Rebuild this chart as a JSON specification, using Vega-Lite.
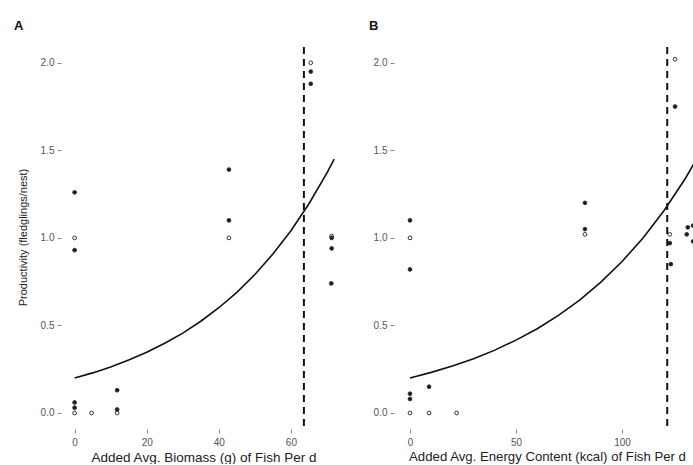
{
  "$schema": "https://vega.github.io/schema/vega-lite/v6.json",
  "background": "white",
  "padding": {"left": 14, "top": 20, "right": 0, "bottom": 0},
  "config": {
    "view": {"stroke": null},
    "font": "Liberation Sans",
    "axis": {"domain": false, "grid": false, "tickSize": 4, "tickColor": "#888", "labelColor": "#555", "labelFontSize": 10, "labelPadding": 3, "titleFont": "Liberation Sans", "titleFontWeight": "normal", "titleColor": "#222"},
    "axisX": {"offset": 2, "labelPadding": 4, "titleFontSize": 13.5, "titlePadding": 3},
    "axisY": {"offset": 1, "titleFontSize": 11},
    "title": {"font": "Liberation Sans", "fontSize": 13, "fontWeight": "bold", "color": "#111", "anchor": "start", "frame": "group"}
  },
  "datasets": {
    "pointsA": [
      {"x": 0, "y": 1.26, "t": "f"}, {"x": 0, "y": 1.0, "t": "o"}, {"x": 0, "y": 0.93, "t": "f"},
      {"x": 0, "y": 0.06, "t": "f"}, {"x": 0, "y": 0.03, "t": "f"}, {"x": 0, "y": 0.0, "t": "o"},
      {"x": 4.7, "y": 0.0, "t": "o"},
      {"x": 11.8, "y": 0.13, "t": "f"}, {"x": 11.8, "y": 0.02, "t": "f"}, {"x": 11.8, "y": 0.0, "t": "o"},
      {"x": 42.8, "y": 1.39, "t": "f"}, {"x": 42.8, "y": 1.1, "t": "f"}, {"x": 42.8, "y": 1.0, "t": "o"},
      {"x": 65.5, "y": 2.0, "t": "o"}, {"x": 65.5, "y": 1.95, "t": "f"}, {"x": 65.5, "y": 1.88, "t": "f"},
      {"x": 71.3, "y": 1.01, "t": "o"}, {"x": 71.3, "y": 1.0, "t": "f"}, {"x": 71.3, "y": 0.94, "t": "f"}, {"x": 71.2, "y": 0.74, "t": "f"}
    ],
    "pointsB": [
      {"x": 0, "y": 1.1, "t": "f"}, {"x": 0, "y": 1.0, "t": "o"}, {"x": 0, "y": 0.82, "t": "f"},
      {"x": 0, "y": 0.11, "t": "f"}, {"x": 0, "y": 0.08, "t": "f"}, {"x": 0, "y": 0.0, "t": "o"},
      {"x": 9, "y": 0.15, "t": "f"}, {"x": 9, "y": 0.0, "t": "o"},
      {"x": 22, "y": 0.0, "t": "o"},
      {"x": 82.5, "y": 1.2, "t": "f"}, {"x": 82.5, "y": 1.05, "t": "f"}, {"x": 82.5, "y": 1.02, "t": "o"},
      {"x": 122.5, "y": 1.02, "t": "o"}, {"x": 122.5, "y": 0.97, "t": "f"}, {"x": 123, "y": 0.85, "t": "f"},
      {"x": 125, "y": 2.02, "t": "o"}, {"x": 125, "y": 1.75, "t": "f"},
      {"x": 131, "y": 1.06, "t": "f"}, {"x": 130.5, "y": 1.02, "t": "f"}, {"x": 133.5, "y": 1.07, "t": "f"}, {"x": 133.5, "y": 0.98, "t": "f"}
    ],
    "curveA": [
      {"x": 0, "y": 0.2}, {"x": 5, "y": 0.229}, {"x": 10, "y": 0.263}, {"x": 15, "y": 0.302},
      {"x": 20, "y": 0.347}, {"x": 25, "y": 0.398}, {"x": 30, "y": 0.456}, {"x": 35, "y": 0.524},
      {"x": 40, "y": 0.601}, {"x": 45, "y": 0.689}, {"x": 50, "y": 0.791}, {"x": 55, "y": 0.908},
      {"x": 60, "y": 1.041}, {"x": 65, "y": 1.195}, {"x": 70, "y": 1.371}, {"x": 72, "y": 1.45}
    ],
    "curveB": [
      {"x": 0, "y": 0.2}, {"x": 10, "y": 0.232}, {"x": 20, "y": 0.268}, {"x": 30, "y": 0.31},
      {"x": 40, "y": 0.359}, {"x": 50, "y": 0.416}, {"x": 60, "y": 0.481}, {"x": 70, "y": 0.557},
      {"x": 80, "y": 0.645}, {"x": 90, "y": 0.747}, {"x": 100, "y": 0.865}, {"x": 110, "y": 1.001},
      {"x": 120, "y": 1.159}, {"x": 130, "y": 1.342}, {"x": 140, "y": 1.553}
    ]
  },
  "hconcat": [
    {
      "width": 283,
      "height": 380,
      "title": {"text": "A", "dx": -48, "offset": 13},
      "encoding": {
        "x": {"field": "x", "type": "quantitative", "scale": {"domain": [-3.5, 75], "nice": false, "zero": false}, "axis": {"values": [0, 20, 40, 60], "title": "Added Avg. Biomass (g) of Fish Per d"}},
        "y": {"field": "y", "type": "quantitative", "scale": {"domain": [-0.08, 2.09], "nice": false, "zero": false}, "axis": {"values": [0, 0.5, 1, 1.5, 2], "format": ".1f", "title": "Productivity (fledglings/nest)", "titlePadding": 12}}
      },
      "layer": [
        {"data": {"name": "curveA"}, "mark": {"type": "line", "color": "#111", "strokeWidth": 1.6, "clip": true}},
        {"data": {"name": "pointsA"}, "mark": {"type": "point", "shape": "circle", "size": 14, "strokeWidth": 1, "stroke": "#333", "opacity": 1, "clip": true},
         "encoding": {"fill": {"field": "t", "type": "nominal", "scale": {"domain": ["f", "o"], "range": ["#1a1a1a", "transparent"]}, "legend": null}}},
        {"data": {"values": [{"v": 63.6}]}, "mark": {"type": "rule", "color": "#111", "strokeWidth": 2, "strokeDash": [7, 5]},
         "encoding": {"x": {"field": "v", "type": "quantitative"}, "y": null}}
      ]
    },
    {
      "width": 300,
      "height": 380,
      "title": {"text": "B", "dx": -26, "offset": 13},
      "encoding": {
        "x": {"field": "x", "type": "quantitative", "scale": {"domain": [-7.07, 134.4], "nice": false, "zero": false}, "axis": {"values": [0, 50, 100], "title": "Added Avg. Energy Content (kcal) of Fish Per d", "titleX": 152, "titleFontSize": 13.2}},
        "y": {"field": "y", "type": "quantitative", "scale": {"domain": [-0.08, 2.09], "nice": false, "zero": false}, "axis": {"values": [0, 0.5, 1, 1.5, 2], "format": ".1f", "title": null}}
      },
      "layer": [
        {"data": {"name": "curveB"}, "mark": {"type": "line", "color": "#111", "strokeWidth": 1.6, "clip": true}},
        {"data": {"name": "pointsB"}, "mark": {"type": "point", "shape": "circle", "size": 14, "strokeWidth": 1, "stroke": "#333", "opacity": 1, "clip": true},
         "encoding": {"fill": {"field": "t", "type": "nominal", "scale": {"domain": ["f", "o"], "range": ["#1a1a1a", "transparent"]}, "legend": null}}},
        {"data": {"values": [{"v": 121.3}]}, "mark": {"type": "rule", "color": "#111", "strokeWidth": 2, "strokeDash": [7, 5]},
         "encoding": {"x": {"field": "v", "type": "quantitative"}, "y": null}}
      ]
    }
  ],
  "spacing": 24
}
